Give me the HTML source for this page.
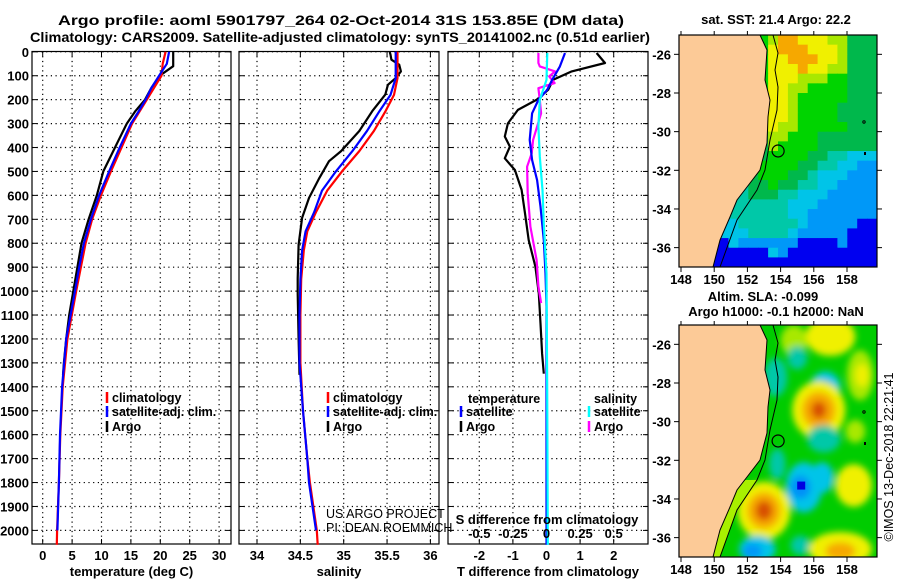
<!DOCTYPE html>
<html><head><meta charset="utf-8"><style>
html,body{margin:0;padding:0;background:#fff;}
svg{display:block;font-family:"Liberation Sans",sans-serif;}
.b{font-weight:bold;font-size:13px;}
</style></head><body>
<svg id="fig" width="900" height="580" viewBox="0 0 900 580" xmlns="http://www.w3.org/2000/svg">
<defs>
<clipPath id="clipM1"><rect x="679" y="35" width="198" height="232"/></clipPath>
<clipPath id="clipM2"><rect x="679" y="325" width="198" height="232"/></clipPath>
<clipPath id="clipSouth"><rect x="679" y="480" width="198" height="80"/></clipPath>
<filter id="blur" x="-20%" y="-20%" width="140%" height="140%"><feGaussianBlur stdDeviation="3.5"/></filter>
</defs>
<text x="341" y="25" text-anchor="middle" font-weight="bold" font-size="14" textLength="566" lengthAdjust="spacingAndGlyphs">Argo profile: aoml 5901797_264 02-Oct-2014 31S 153.85E (DM data)</text>
<text x="340" y="42" text-anchor="middle" font-weight="bold" font-size="14" textLength="620" lengthAdjust="spacingAndGlyphs">Climatology: CARS2009. Satellite-adjusted climatology: synTS_20141002.nc (0.51d earlier)</text>
<g id="plots"></g>
<g id="maps"></g>
</svg>
<script>
// ---------- profile data ----------
const climTDepth = [0,50,100,200,300,400,500,600,700,800,1000,1200,1400,1600,1800,2000,2060];
const climT = [20.9,20.4,20.2,17.7,15.2,13.4,11.6,9.9,8.4,7.3,5.7,4.2,3.4,3.0,2.75,2.45,2.4];
const satTDepth = [0,50,100,150,200,250,300,400,500,600,700,800,900,1000,1200,1400,1600,1800,2000];
const satT = [21.5,21.1,19.8,18.5,17.5,16.3,15.0,13.1,11.3,9.6,8.2,7.0,6.2,5.5,4.0,3.3,2.95,2.75,2.5];
const argoTDepth = [0,60,100,150,200,250,300,400,500,600,700,800,900,1000,1100,1200,1300,1350];
const argoT = [22.2,22.2,19.9,18.5,17.4,15.7,14.3,12.3,10.3,9.2,7.8,6.6,5.9,5.2,4.5,4.0,3.6,3.45];

const climSDepth = [0,110,180,250,330,415,500,580,670,750,830,950,1100,1300,1500,1700,1800,2000,2060];
const climS = [35.62,35.62,35.58,35.48,35.35,35.18,34.98,34.81,34.68,34.58,34.54,34.51,34.50,34.50,34.53,34.58,34.61,34.69,34.70];
const satSDepth = [0,110,180,250,330,415,500,580,670,750,830,950,1100,1300,1500,1700,1800,2000];
const satS = [35.60,35.60,35.54,35.41,35.27,35.10,34.91,34.75,34.66,34.56,34.52,34.50,34.49,34.49,34.53,34.58,34.60,34.68];
const argoSDepth = [0,12,33,54,82,110,138,179,248,331,415,457,527,611,694,806,946,1012,1200,1350];
const argoS = [35.53,35.54,35.55,35.64,35.66,35.60,35.51,35.48,35.33,35.18,34.97,34.83,34.72,34.60,34.52,34.48,34.47,34.47,34.48,34.49];

const argoTdDepth = [5,47,82,117,159,201,243,299,354,396,445,494,577,675,787,898,1010,1135,1261,1345];
const argoTdiff = [1.49,1.74,0.75,0.2,0.05,-0.3,-0.85,-1.15,-1.24,-1.09,-1.24,-0.94,-0.74,-0.64,-0.53,-0.33,-0.23,-0.18,-0.13,-0.08];
const satTdDepth = [5,61,117,159,201,257,368,452,536,647,787,926,1066,1523,2060];
const satTdiff = [0.55,0.40,0.17,0.02,-0.24,-0.43,-0.5,-0.43,-0.28,-0.18,-0.08,-0.03,0,0,0];
const argoSdDepth = [5,47,61,82,103,131,152,201,257,368,424,480,591,731,870,980,1050];
const argoSdiff = [-0.06,-0.06,-0.05,0.064,0.02,0.06,-0.06,-0.05,-0.04,-0.10,-0.11,-0.144,-0.14,-0.12,-0.074,-0.06,-0.04];
const satSdDepth = [5,117,201,313,438,578,718,926,1400,2060];
const satSdiff = [0.006,0,-0.05,-0.06,-0.05,-0.03,-0.02,0,0.005,0.01];

const depthTicks = [0,100,200,300,400,500,600,700,800,900,1000,1100,1200,1300,1400,1500,1600,1700,1800,1900,2000];
const tempTicks = [0,5,10,15,20,25,30];
const salTicks = [34,34.5,35,35.5,36];
const salTickLabels = ["34","34.5","35","35.5","36"];
const tdTicks = [-2,-1,0,1,2];
const sdTicks = [-0.5,-0.25,0,0.25,0.5];
const sdTickLabels = ["-0.5","-0.25","0","0.25","0.5"];
const lonTicks = [148,150,152,154,156,158];
const latTicks = [-26,-28,-30,-32,-34,-36];

// ---------- scales ----------
const NS = "http://www.w3.org/2000/svg";
const TOP = 51.5, BOT = 544;
const yD = d => 51.8 + d * 0.2393;
const xT = v => 42.7 + v * 5.88;
const xS = v => 257 + (v - 34) * 86.7;
const xTd = v => 546.5 + v * 33.6;
const xSd = v => 546.5 + v * 134.4;
const lonX = lon => 681 + (lon - 148) * 16.6;
const latY = (lat, top) => top + (-25 - lat) * 19.33;

function mk(tag, attrs, parent) {
  const e = document.createElementNS(NS, tag);
  for (const k in attrs) e.setAttribute(k, attrs[k]);
  parent.appendChild(e);
  return e;
}
const plots = document.getElementById('plots');

function panel(name, x0, x1, xticks, xlabels, xf, title, showDepthLabels, grid) {
  const g = mk('g', {}, plots);
  
  
  grid.forEach(v => {
    const l = mk('line', {x1: xf(v), x2: xf(v), y1: TOP, y2: BOT, stroke: '#000', 'stroke-width': 1.2, 'stroke-dasharray': '1.2,3.5'}, g);
    
    
  });
  depthTicks.forEach(d => {
    const l = mk('line', {x1: x0, x2: x1, y1: yD(d), y2: yD(d), stroke: '#000', 'stroke-width': 1.2, 'stroke-dasharray': '1.2,3.5'}, g);
    
    
    mk('line', {x1: x0, x2: x0 + 5, y1: yD(d), y2: yD(d), stroke: '#000'}, g);
    mk('line', {x1: x1 - 5, x2: x1, y1: yD(d), y2: yD(d), stroke: '#000'}, g);
    if (showDepthLabels) {
      const t = mk('text', {x: 29, y: yD(d) + 5, 'text-anchor': 'end', class: 'b'}, g);
      t.textContent = d;
      
      
    }
  });
  xticks.forEach((v, i) => {
    mk('line', {x1: xf(v), x2: xf(v), y1: BOT - 5, y2: BOT, stroke: '#000'}, g);
    mk('line', {x1: xf(v), x2: xf(v), y1: TOP, y2: TOP + 5, stroke: '#000'}, g);
    const t = mk('text', {x: xf(v), y: 560, 'text-anchor': 'middle', class: 'b'}, g);
    t.textContent = xlabels[i];
    
    
  });
  const r = mk('rect', {x: x0, y: TOP, width: x1 - x0, height: BOT - TOP, fill: 'none', stroke: '#000', 'stroke-width': 1.2}, g);
  
  
  const tt = mk('text', {x: (x0 + x1) / 2, y: 576, 'text-anchor': 'middle', class: 'b'}, g);
  tt.textContent = title;
  
  
  return g;
}
function series(g, name, depths, vals, xf, color) {
  const pts = vals.map((v, i) => xf(v).toFixed(1) + ',' + yD(depths[i]).toFixed(1)).join(' ');
  const p = mk('polyline', {points: pts, fill: 'none', stroke: color, 'stroke-width': 2.2, 'stroke-linejoin': 'round'}, g);
  
  
}
function legend(g, x, y, color, label, name) {
  mk('line', {x1: x, x2: x, y1: y - 10, y2: y + 1, stroke: color, 'stroke-width': 2.5}, g);
  const t = mk('text', {x: x + 5, y: y, 'font-size': 12.5, 'font-weight': 'bold'}, g);
  t.textContent = label;
  
  
}

const g1 = panel('temperature-panel', 32, 231, tempTicks, tempTicks.map(String), xT, 'temperature (deg C)', true, tempTicks);
series(g1, 'argo-temperature-line', argoTDepth, argoT, xT, '#000');
series(g1, 'climatology-temperature-line', climTDepth, climT, xT, '#ff0000');
series(g1, 'satellite-temperature-line', satTDepth, satT, xT, '#0000ff');
legend(g1, 107, 402, '#ff0000', 'climatology', 'legend-climatology');
legend(g1, 107, 416, '#0000ff', 'satellite-adj. clim.', 'legend-satellite');
legend(g1, 107, 431, '#000', 'Argo', 'legend-argo');

const g2 = panel('salinity-panel', 239, 439, salTicks, salTickLabels, xS, 'salinity', false, salTicks);
series(g2, 'argo-salinity-line', argoSDepth, argoS, xS, '#000');
series(g2, 'climatology-salinity-line', climSDepth, climS, xS, '#ff0000');
series(g2, 'satellite-salinity-line', satSDepth, satS, xS, '#0000ff');
legend(g2, 328, 402, '#ff0000', 'climatology', 'legend-climatology');
legend(g2, 328, 416, '#0000ff', 'satellite-adj. clim.', 'legend-satellite');
legend(g2, 328, 431, '#000', 'Argo', 'legend-argo');
const us = mk('text', {x: 326, y: 518, 'font-size': 12.5}, g2);
us.textContent = 'US ARGO PROJECT';


const pi = mk('text', {x: 326, y: 532, 'font-size': 12.5}, g2);
pi.textContent = 'PI: DEAN ROEMMICH';



const g3 = panel('difference-panel', 448, 648, tdTicks, tdTicks.map(String), xTd, 'T difference from climatology', false, tdTicks);
series(g3, 'argo-temperature-diff-line', argoTdDepth, argoTdiff, xTd, '#000');
series(g3, 'argo-salinity-diff-line', argoSdDepth, argoSdiff, xSd, '#ff00ff');
series(g3, 'satellite-temperature-diff-line', satTdDepth, satTdiff, xTd, '#0000ff');
series(g3, 'satellite-salinity-diff-line', satSdDepth, satSdiff, xSd, '#00ffff');
const lt = mk('text', {x: 468, y: 403, 'font-size': 12.5, 'font-weight': 'bold'}, g3); lt.textContent = 'temperature';


const ls = mk('text', {x: 594, y: 403, 'font-size': 12.5, 'font-weight': 'bold'}, g3); ls.textContent = 'salinity';


legend(g3, 461, 416, '#0000ff', 'satellite', 'legend-t-satellite');
legend(g3, 461, 431, '#000', 'Argo', 'legend-t-argo');
legend(g3, 589, 416, '#00ffff', 'satellite', 'legend-s-satellite');
legend(g3, 589, 431, '#ff00ff', 'Argo', 'legend-s-argo');
const st = mk('text', {x: 547, y: 524, 'text-anchor': 'middle', class: 'b'}, g3); st.textContent = 'S difference from climatology';


sdTicks.forEach((v, i) => {
  const t = mk('text', {x: xSd(v), y: 538, 'text-anchor': 'middle', class: 'b'}, g3);
  t.textContent = sdTickLabels[i];
  
  
});

// ---------- maps ----------
const maps = document.getElementById('maps');
const COLS = {O:'#f6a800',Y:'#f0f000',L:'#a8e800',G:'#00d400',D:'#00b84c',T:'#00c8a8',C:'#00c4e8',B:'#0098f8',N:'#0000f0'};
const sstGrid = [
"GGGGGGGGGLOOYYYLLDDD","GGGGGGGGGYOOOYYYLDDD","GGGGGGGGGYYOOOYYLDDD","GGGGGGGGGYYYOYYLLDDD",
"GGGGGGGGGYYYLLLGGDDD","GGGGGGGGGYYLLGGGGDDD","GGGGGGGGGYYLGGGGGDDD","GGGGGGGGGYYLGGGGDDDD",
"GGGGGGGGDYYLGGGGDDDD","GGGGGGGGDYLLGGGGGDDD","GGGGGGGGDLLGGGDDDDDD","GGGGGGGGDLGGGGDDDDDD",
"GGGGGGGGDGGGGDDTTCCC","GGGGGGGGGGGGDDTTCCBB","GGGGGGGDGGGDDTCCCBBB","GGGGGGTDDGDDTTCCBBBB",
"GGGGGTTDDDTTCCCBBBBB","GGGGGTTTTTTCCCBBBBBB","GGGGCTTTTTTCCBBBBBBB","GGGGCCTTTTTTCBBBBBNN",
"GGGGCCCTTTTCBBBBBNNN","GGGNNCBBBBBBNNNNBNNN","GGGNNNNNNCBNNNNNNNNN","GGGNNNNNNNNNNNNNNNNN"];
const coast = [[760,0],[767,15],[765,45],[770,65],[768,82],[767,108],[760,135],[747,152],[737,165],[730,182],[720,205],[713,232]];
const shelf = [[773,0],[778,18],[775,35],[778,52],[777,75],[770,105],[765,135],[757,155],[737,185],[720,232]];

function mapFrame(name, clip) {
  const g = mk('g', {}, maps);
  
  
  const inner = mk('g', {'clip-path': 'url(#' + clip + ')'}, g);
  return [g, inner];
}
function mapOverlay(g, inner, top) {
  const land = 'M679,' + top + ' ' + coast.map(p => 'L' + p[0] + ',' + (p[1] + top)).join(' ') + ' L679,' + (top + 232) + ' Z';
  const lp = mk('path', {d: land, fill: '#fcca97', stroke: '#000', 'stroke-width': 1}, inner);
  
  
  const sl = mk('polyline', {points: shelf.map(p => p[0] + ',' + (p[1] + top)).join(' '), fill: 'none', stroke: '#000', 'stroke-width': 1}, inner);
  
  
  const c = mk('circle', {cx: lonX(153.85), cy: latY(-31, top), r: 6, fill: 'none', stroke: '#000', 'stroke-width': 1.2}, g);
  
  
  mk('rect', {x: 679, y: top, width: 198, height: 232, fill: 'none', stroke: '#000', 'stroke-width': 1.2}, g);
  latTicks.forEach(lat => {
    const y = latY(lat, top);
    mk('line', {x1: 674, x2: 679, y1: y, y2: y, stroke: '#000'}, g);
    mk('line', {x1: 877, x2: 882, y1: y, y2: y, stroke: '#000'}, g);
    const t = mk('text', {x: 671, y: y + 5, 'text-anchor': 'end', class: 'b'}, g);
    t.textContent = lat;
    
    
  });
  lonTicks.forEach(lon => {
    const x = lonX(lon);
    mk('line', {x1: x, x2: x, y1: top - 4, y2: top, stroke: '#000'}, g);
    mk('line', {x1: x, x2: x, y1: top + 232, y2: top + 237, stroke: '#000'}, g);
    const t = mk('text', {x: x, y: top + 249, 'text-anchor': 'middle', class: 'b'}, g);
    t.textContent = lon;
    
    
  });
  mk('circle', {cx: 864, cy: top + 87, r: 1.2, fill: 'none', stroke: '#000'}, g);
  mk('rect', {x: 864, y: top + 117, width: 2, height: 3, fill: '#000'}, g);
}

const [m1, m1i] = mapFrame('sst-map', 'clipM1');
sstGrid.forEach((row, r) => {
  for (let c = 0; c < row.length; c++) {
    mk('rect', {x: 679 + c * 9.9, y: 35 + r * 9.67, width: 10.4, height: 10.1, fill: COLS[row[c]]}, m1i);
  }
});
mapOverlay(m1, m1i, 35);
const mt1 = mk('text', {x: 776, y: 24, 'text-anchor': 'middle', class: 'b'}, m1);
mt1.textContent = 'sat. SST: 21.4 Argo: 22.2';



const [m2, m2i] = mapFrame('sla-map', 'clipM2');
mk('rect', {x: 679, y: 325, width: 198, height: 232, fill: '#00cc00'}, m2i);
const blobs = [
  [157,-25.6,1.5,1.0,'#f0f000'],[154.8,-25.8,0.8,0.8,'#a8e800'],[158.8,-27.6,0.8,1.3,'#a8e800'],[158.9,-27.6,0.4,0.6,'#f0f000'],
  [153.7,-27.7,0.7,1.0,'#00c8a8'],[155.0,-26.7,0.6,0.6,'#00c8a8'],[156.7,-28.2,0.9,0.8,'#00c8e8'],[156.7,-28.2,0.35,0.35,'#0098f8'],
  [156.3,-29.4,1.6,1.5,'#f0f000'],[156.3,-29.4,1.0,0.95,'#f6a800'],[156.3,-29.4,0.45,0.45,'#d85000'],
  [156.6,-30.9,1.0,0.7,'#00c8a8'],[158.5,-30.5,0.6,0.6,'#a8e800'],[153.8,-32.2,0.5,0.8,'#00c8a8'],[158.4,-33.3,1.1,1.1,'#f0f000'],
  [155.4,-33.4,1.1,1.3,'#00c4e8'],[156.5,-32.9,0.7,0.8,'#00c4e8'],[155.2,-33.4,0.6,0.6,'#0090f8'],
  [153.0,-34.6,1.6,1.5,'#f0f000'],[153.0,-34.6,1.0,0.95,'#f6a800'],[153.0,-34.6,0.5,0.5,'#d85000'],
  [152.6,-36.6,1.1,0.7,'#00c4e8'],[152.3,-36.7,0.6,0.4,'#0098f8'],[155.2,-36.4,0.6,0.5,'#00c8a8'],
  [157.6,-36.6,1.9,0.9,'#f0f000'],[157.6,-36.7,0.9,0.45,'#f6a800']
];
const bg = mk('g', {filter: 'url(#blur)'}, m2i);
blobs.forEach(b => {
  const e = mk('ellipse', {cx: lonX(b[0]), cy: latY(b[1], 325), rx: b[2] * 16.6, ry: b[3] * 19.33, fill: b[4]}, bg);
  
  
});
mk('rect', {x: lonX(155.0), y: latY(-33.1, 325), width: 8, height: 8, fill: '#0000e0'}, m2i);
// lime inner shelf in the south
const shelfPoly = coast.map(p => p[0] + ',' + (p[1] + 325)).join(' ') + ' ' + shelf.slice().reverse().map(p => p[0] + ',' + (p[1] + 325)).join(' ');
const sp = mk('polygon', {points: shelfPoly, fill: '#a8f000', 'clip-path': 'url(#clipSouth)'}, m2i);


mapOverlay(m2, m2i, 325);
const mt2 = mk('text', {x: 763, y: 301, 'text-anchor': 'middle', class: 'b'}, m2);
mt2.textContent = 'Altim. SLA: -0.099';


const mt3 = mk('text', {x: 776, y: 316, 'text-anchor': 'middle', class: 'b'}, m2);
mt3.textContent = 'Argo h1000: -0.1 h2000: NaN';


const cr = mk('text', {x: 893, y: 457, 'text-anchor': 'middle', 'font-size': 12.5, transform: 'rotate(-90 893 457)'}, m2);
cr.textContent = '©IMOS 13-Dec-2018 22:21:41';


</script>
</body></html>
